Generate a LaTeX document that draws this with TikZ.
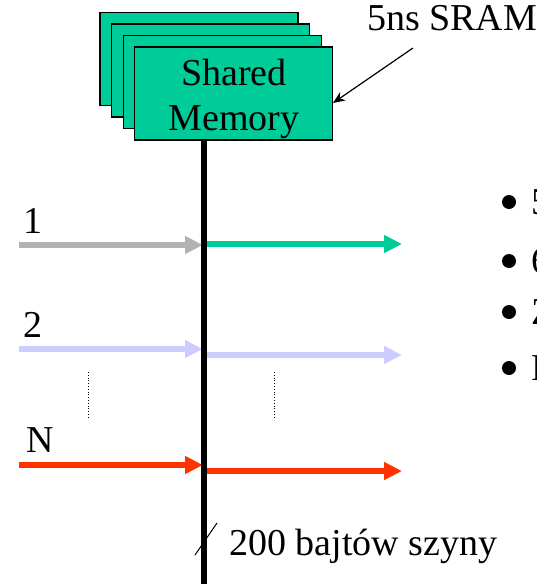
\documentclass[tikz,border=0pt]{standalone}
\usepackage{fontspec}
\setmainfont{Liberation Serif}
\usetikzlibrary{arrows.meta}

\definecolor{memgreen}{HTML}{00CC99}
\definecolor{busgray}{HTML}{B2B2B2}
\definecolor{buslav}{HTML}{CCCCFF}
\definecolor{busred}{HTML}{FF3300}

\begin{document}
\begin{tikzpicture}[x=1pt, y=-1pt,
    memcard/.style={draw, fill=memgreen, line width=1.2pt,
                    minimum width=198pt, minimum height=93pt, inner sep=0pt},
    busarrow/.style={line width=5.5pt, -{Triangle[length=18pt,width=17pt]}},
    big/.style={font=\fontsize{38}{45}\selectfont, inner sep=0pt}]
  \useasboundingbox (0,0) rectangle (537,584);
  \clip (0,0) rectangle (537,584);

  % memory banks
  \foreach \i in {0,1,2,3} {
    \node[memcard] (card\i) at ({199+11.6*\i},{59+11.5*\i}) {};
  }
  \node[big, align=center, yshift=-5pt] (mem) at (card3) {Shared\\Memory};

  \node[big, anchor=base west] (sram) at (367,30) {5ns SRAM};
  \coordinate (sramtail) at (413,48);
  \coordinate (sramtip) at (333,103);
  \draw[line width=1.2pt, -{Stealth[length=12pt,width=10pt]}] (sramtail) -- (sramtip);

  % ports
  \node[big, anchor=base west] (lab1) at (23,233) {1};
  \node[big, anchor=base west] (lab2) at (23,337) {2};
  \node[big, anchor=base west] (labN) at (26,452) {N};

  \foreach \n/\yl/\yr/\cl/\cr in {1/245/244/busgray/memgreen,
                                 2/349/355/buslav/buslav,
                                 N/465/471/busred/busred} {
    \coordinate (in\n) at (19,\yl);
    \coordinate (hit\n) at (203,\yl);
    \coordinate (tap\n) at (205,\yr);
    \coordinate (out\n) at (402,\yr);
    \draw[busarrow, \cl] (in\n) -- (hit\n);
    \draw[busarrow, \cr] (tap\n) -- (out\n);
  }

  \draw[dotted, line width=0.8pt] (88,372) -- (88,417);
  \draw[dotted, line width=0.8pt] (274,372) -- (274,417);

  % bus
  \coordinate (bustop) at (204,140);
  \coordinate (busbot) at (204,584);
  \draw[line width=5.5pt] (bustop) -- (busbot);

  \draw[line width=1pt] (195,555) -- (217,523);
  \node[big, anchor=base west] (width) at (229,555) {200 bajtów szyny};

  % bullets
  \foreach \y/\c in {202/5, 261/6, 312/Z, 368/P} {
    \fill (509,\y) circle (7);
    \node[big, anchor=base west] (item\c) at (531,\y+12) {\c};
  }
\end{tikzpicture}
\end{document}
